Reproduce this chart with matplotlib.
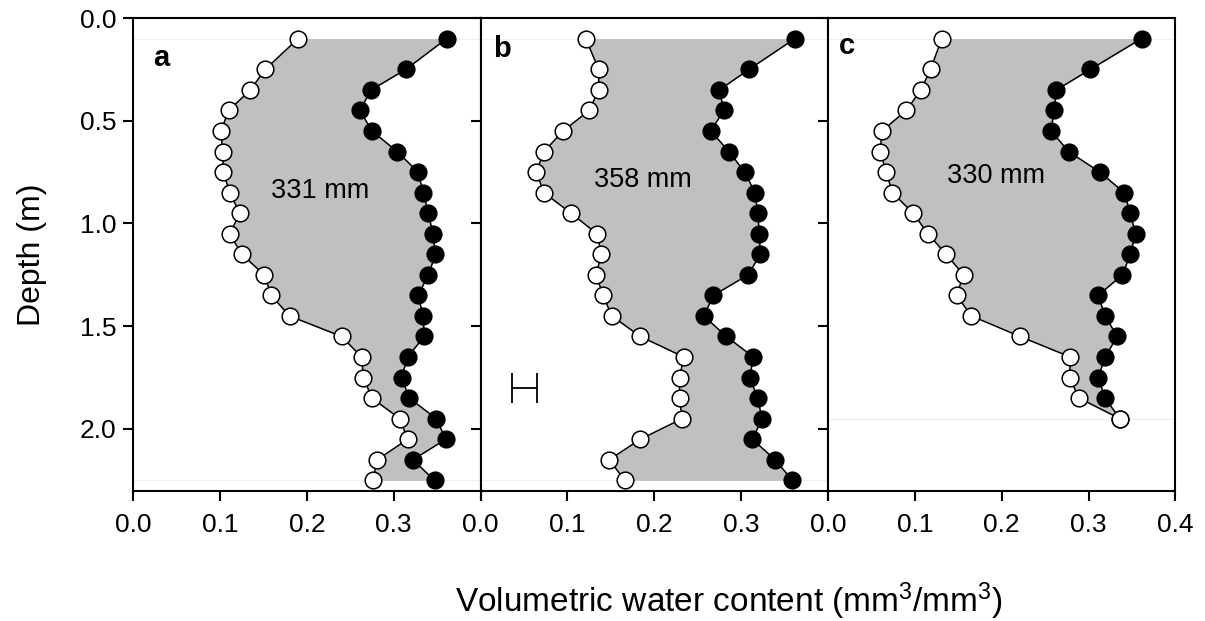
import matplotlib
matplotlib.use('Agg')
import matplotlib.pyplot as plt

plt.rcParams['font.family'] = ['Liberation Sans', 'DejaVu Sans']
plt.rcParams['mathtext.default'] = 'regular'

# depths (m)
depth_ab = [0.1, 0.25, 0.35, 0.45, 0.55, 0.65, 0.75, 0.85, 0.95, 1.05, 1.15,
            1.25, 1.35, 1.45, 1.55, 1.65, 1.75, 1.85, 1.95, 2.05, 2.15, 2.25]
depth_c = depth_ab[:19]

# panel a
dry_a = [0.190, 0.152, 0.135, 0.110, 0.101, 0.103, 0.104, 0.111, 0.123, 0.111, 0.125,
         0.151, 0.159, 0.180, 0.240, 0.263, 0.265, 0.275, 0.307, 0.316, 0.281, 0.276]
wet_a = [0.361, 0.314, 0.274, 0.261, 0.275, 0.304, 0.328, 0.334, 0.340, 0.345, 0.348,
         0.340, 0.328, 0.334, 0.335, 0.316, 0.309, 0.318, 0.349, 0.360, 0.322, 0.347]

# panel b
dry_b = [0.121, 0.136, 0.136, 0.125, 0.095, 0.073, 0.064, 0.073, 0.104, 0.134, 0.139,
         0.133, 0.141, 0.151, 0.184, 0.234, 0.229, 0.229, 0.232, 0.184, 0.148, 0.166]
wet_b = [0.362, 0.309, 0.275, 0.280, 0.265, 0.286, 0.304, 0.316, 0.319, 0.321, 0.322,
         0.308, 0.268, 0.257, 0.283, 0.314, 0.310, 0.319, 0.324, 0.313, 0.339, 0.359]

# panel c
dry_c = [0.131, 0.118, 0.107, 0.090, 0.062, 0.060, 0.067, 0.074, 0.098, 0.115, 0.136,
         0.156, 0.148, 0.165, 0.221, 0.279, 0.278, 0.289, 0.336]
wet_c = [0.361, 0.302, 0.263, 0.260, 0.257, 0.277, 0.313, 0.341, 0.348, 0.354, 0.348,
         0.339, 0.311, 0.319, 0.333, 0.319, 0.311, 0.319, 0.336]

panels = [
    ('a', depth_ab, dry_a, wet_a, '331 mm', (0.215, 0.84), (0.082, 0.085)),
    ('b', depth_ab, dry_b, wet_b, '358 mm', (0.187, 0.79), (0.062, 0.066)),
    ('c', depth_c, dry_c, wet_c, '330 mm', (0.193, 0.77), (0.054, 0.060)),
]

fig = plt.figure(figsize=(12.05, 6.21), dpi=100)
left, right, top, bottom = 0.1105, 0.9755, 0.971, 0.210
w = (right - left) / 3
axes = []
for i in range(3):
    ax = fig.add_axes([left + i * w, bottom, w, top - bottom])
    axes.append(ax)

for i, (ax, (lab, d, dry, wet, total, tpos, lpos)) in enumerate(zip(axes, panels)):
    ax.fill_betweenx(d, dry, wet, color='#c0c0c0', lw=0, zorder=1)
    ax.axhline(d[0], color='#eeeeee', lw=0.8, zorder=0)
    ax.axhline(d[-1], color='#eeeeee', lw=0.8, zorder=0)
    ax.plot(wet, d, '-o', color='black', mfc='black', mec='black', ms=12,
            mew=1.1, lw=1.1, zorder=3)
    ax.plot(dry, d, '-o', color='black', mfc='white', mec='black', ms=12,
            mew=1.1, lw=1.1, zorder=4)
    ax.text(tpos[0], tpos[1], total, fontsize=19.5, ha='center', va='center', zorder=5)
    ax.text(lpos[0], 1 - lpos[1], lab, transform=ax.transAxes, fontsize=21,
            fontweight='bold', ha='center', va='center')

    ax.set_xlim(0, 0.4)
    ax.set_ylim(2.3, 0)
    for s in ax.spines.values():
        s.set_linewidth(1.5)
    ax.tick_params(axis='x', direction='out', length=7, width=1.5, labelsize=19, pad=9)
    ax.tick_params(axis='y', direction='out', length=7, width=1.5, labelsize=19, pad=5)
    ax.set_yticks([0.0, 0.5, 1.0, 1.5, 2.0])
    ax.set_xticks([0.0, 0.1, 0.2, 0.3, 0.4])
    if i < 2:
        ax.set_xticklabels(['0.0', '0.1', '0.2', '0.3', ''])
    else:
        ax.set_xticklabels(['0.0', '0.1', '0.2', '0.3', '0.4'])

# y ticks: outward left on a, inward on the right of a and b
axes[0].yaxis.set_major_formatter(matplotlib.ticker.FormatStrFormatter('%.1f'))
axes[0].tick_params(axis='y', right=True, labelright=False)
axes[1].tick_params(axis='y', left=False, labelleft=False, right=True, direction='in')
axes[2].tick_params(axis='y', left=False, labelleft=False)

for t in axes[0].yaxis.get_major_ticks():
    t.tick2line.set_marker(matplotlib.lines.TICKLEFT)

# error bar in panel b
axes[1].errorbar([0.051], [1.8], xerr=[0.0145], fmt='none', ecolor='black',
                 elinewidth=1.3, capsize=11, capthick=1.3)

axes[0].set_ylabel('Depth (m)', fontsize=23, labelpad=24)
fig.text(729 / 1205, 1 - 601 / 621, r'Volumetric water content (mm$^3$/mm$^3$)',
         fontsize=24, ha='center', va='center')

fig.savefig('out.png', dpi=100)
